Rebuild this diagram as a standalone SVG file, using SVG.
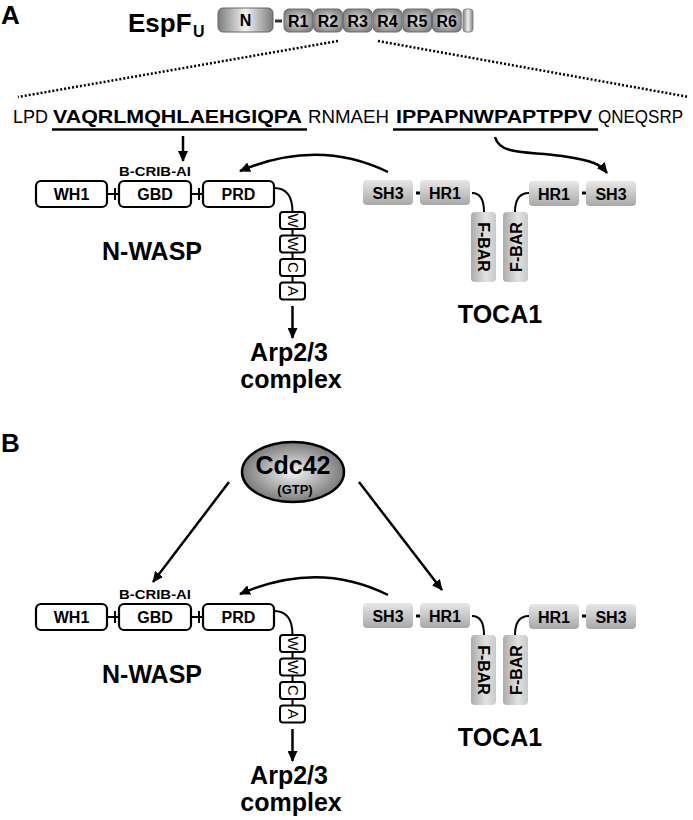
<svg xmlns="http://www.w3.org/2000/svg" width="693" height="820" viewBox="0 0 693 820">
<defs>
<style>
text{font-family:"Liberation Sans",Arial,sans-serif;fill:#000}
.b{font-weight:bold}
.box{fill:#fff;stroke:#000;stroke-width:2.2}
.wb{fill:#fff;stroke:#000;stroke-width:2}
.ln{fill:none;stroke:#000;stroke-width:2.5}
.th{fill:none;stroke:#000;stroke-width:2}
.dot{fill:none;stroke:#000;stroke-width:2.5;stroke-dasharray:2 2}
.tb{fill:url(#gT)}
.fb{fill:url(#gF)}
.rb{fill:url(#gR);stroke:#6a6a6a;stroke-width:1}
</style>
<linearGradient id="gN" x1="0" y1="0" x2="1" y2="0">
<stop offset="0" stop-color="#7c7c7c"/><stop offset="0.5" stop-color="#f2f2f2"/><stop offset="1" stop-color="#7c7c7c"/>
</linearGradient>
<radialGradient id="gR" cx="0.5" cy="0.5" r="0.6">
<stop offset="0" stop-color="#e6e6e6"/><stop offset="1" stop-color="#7a7a7a"/>
</radialGradient>
<linearGradient id="gT" x1="0" y1="0" x2="0" y2="1">
<stop offset="0" stop-color="#e8e8e8"/><stop offset="1" stop-color="#a8a8a8"/>
</linearGradient>
<linearGradient id="gF" x1="0" y1="0" x2="1" y2="0">
<stop offset="0" stop-color="#ababab"/><stop offset="0.6" stop-color="#e2e2e2"/><stop offset="1" stop-color="#c9c9c9"/>
</linearGradient>
<radialGradient id="gC" cx="0.5" cy="0.5" r="0.55">
<stop offset="0" stop-color="#f4f4f4"/><stop offset="1" stop-color="#6e6e6e"/>
</radialGradient>
<marker id="ah" markerWidth="11" markerHeight="10" refX="10" refY="5" orient="auto" markerUnits="userSpaceOnUse">
<path d="M0,0 L11,5 L0,10 z" fill="#000"/>
</marker>
</defs>

<!-- panel labels -->
<text class="b" x="1" y="24" font-size="26">A</text>
<text class="b" x="1" y="452" font-size="26">B</text>

<!-- EspFU -->
<g id="espfu">
<text class="b" x="128" y="32" font-size="26">EspF</text>
<text class="b" x="193" y="37" font-size="16">U</text>
<rect x="218" y="8" width="55" height="24" rx="5" fill="url(#gN)" stroke="#666" stroke-width="1"/>
<text class="b" x="245.5" y="26" font-size="16" text-anchor="middle">N</text>
<line x1="275" y1="21" x2="282" y2="21" stroke="#333" stroke-width="3"/>
<rect class="rb" x="284" y="9" width="28.7" height="23" rx="5"/>
<rect class="rb" x="313.7" y="9" width="28.7" height="23" rx="5"/>
<rect class="rb" x="343.4" y="9" width="28.7" height="23" rx="5"/>
<rect class="rb" x="373.1" y="9" width="28.7" height="23" rx="5"/>
<rect class="rb" x="402.8" y="9" width="28.7" height="23" rx="5"/>
<rect class="rb" x="432.5" y="9" width="28.7" height="23" rx="5"/>
<rect x="463" y="9" width="10" height="23" rx="3" fill="url(#gN)" stroke="#888" stroke-width="1"/>
<g class="b" font-size="16" text-anchor="middle">
<text x="298.3" y="26.5">R1</text>
<text x="328" y="26.5">R2</text>
<text x="357.7" y="26.5">R3</text>
<text x="387.4" y="26.5">R4</text>
<text x="417.1" y="26.5">R5</text>
<text x="446.8" y="26.5">R6</text>
</g>
</g>

<!-- sequence -->
<g id="sequence" font-size="19">
<text x="13" y="123" textLength="35" lengthAdjust="spacingAndGlyphs">LPD</text>
<text class="b" x="53" y="123" textLength="249" lengthAdjust="spacingAndGlyphs">VAQRLMQHLAEHGIQPA</text>
<text x="308" y="123" textLength="81" lengthAdjust="spacingAndGlyphs">RNMAEH</text>
<text class="b" x="396" y="123" textLength="196" lengthAdjust="spacingAndGlyphs">IPPAPNWPAPTPPV</text>
<text x="598" y="123" textLength="85" lengthAdjust="spacingAndGlyphs">QNEQSRP</text>
<line x1="52" y1="129.5" x2="307" y2="129.5" stroke="#000" stroke-width="2.5"/>
<line x1="393" y1="129.5" x2="598" y2="129.5" stroke="#000" stroke-width="2.5"/>
</g>

<!-- connectors -->
<g id="connectors">
<line class="dot" x1="338" y1="41" x2="18" y2="97"/>
<line class="dot" x1="378" y1="41" x2="689" y2="97"/>
<line class="ln" x1="183" y1="136" x2="183" y2="161" marker-end="url(#ah)"/>
<path class="ln" d="M388,172 Q318,138 240,171" marker-end="url(#ah)"/>
<path class="ln" d="M495,137 C500,156 530,151 562,156 S600,164 607,173" marker-end="url(#ah)"/>
<line class="ln" x1="292.5" y1="306" x2="292.5" y2="338" marker-end="url(#ah)"/>
<!-- panel B -->
<line class="ln" x1="229" y1="482" x2="153" y2="582" marker-end="url(#ah)"/>
<line class="ln" x1="359" y1="482" x2="442" y2="590" marker-end="url(#ah)"/>
<path class="ln" d="M388,595 Q318,560 240,594" marker-end="url(#ah)"/>
<line class="ln" x1="292.5" y1="729" x2="292.5" y2="761" marker-end="url(#ah)"/>
</g>

<!-- N-WASP panel A -->
<g id="nwasp-a">
<line class="th" x1="107" y1="194" x2="119" y2="194"/>
<line class="th" x1="115" y1="188" x2="115" y2="200"/>
<line class="th" x1="191" y1="194" x2="203" y2="194"/>
<line class="th" x1="199" y1="188" x2="199" y2="200"/>
<path class="th" d="M274,188 C288,188 292.5,198 292.5,212"/>
<line class="th" x1="292.5" y1="212" x2="292.5" y2="300"/>
<rect class="box" x="36" y="181" width="71" height="26" rx="5"/>
<rect class="box" x="119" y="181" width="72" height="26" rx="5"/>
<rect class="box" x="203" y="181" width="71" height="26" rx="5"/>
<g class="b" font-size="16" text-anchor="middle">
<text x="71.5" y="199.5">WH1</text>
<text x="155" y="199.5">GBD</text>
<text x="238.5" y="199.5">PRD</text>
</g>
<text class="b" x="155" y="176" font-size="13.5" text-anchor="middle" textLength="72" lengthAdjust="spacingAndGlyphs">B-CRIB-AI</text>
<rect class="wb" x="280" y="212" width="25" height="17" rx="3"/>
<rect class="wb" x="280" y="235.5" width="25" height="17" rx="3"/>
<rect class="wb" x="280" y="259" width="25" height="17" rx="3"/>
<rect class="wb" x="280" y="282.5" width="25" height="17" rx="3"/>
<g font-size="15" text-anchor="middle">
<text transform="translate(292.5,220.5) rotate(90)" y="5">W</text>
<text transform="translate(292.5,244) rotate(90)" y="5">W</text>
<text transform="translate(292.5,267.5) rotate(90)" y="5">C</text>
<text transform="translate(292.5,291) rotate(90)" y="5">A</text>
</g>
<text class="b" x="152" y="260" font-size="25" text-anchor="middle">N-WASP</text>
<text class="b" x="289" y="361" font-size="25" text-anchor="middle">Arp2/3</text>
<text class="b" x="291" y="388" font-size="25" text-anchor="middle">complex</text>
</g>

<!-- TOCA1 panel A -->
<g id="toca1-a">
<line x1="416" y1="193" x2="420" y2="193" stroke="#000" stroke-width="3"/>
<line x1="582" y1="193" x2="586" y2="193" stroke="#000" stroke-width="3"/>
<path class="th" d="M472,193 C480,193 484,200 484,212"/>
<path class="th" d="M515,212 C515,200 519,193 529,193"/>
<rect class="tb" x="363" y="180" width="50" height="25" rx="4"/>
<rect class="tb" x="420" y="180" width="50" height="25" rx="4"/>
<rect class="tb" x="529" y="181" width="50" height="25" rx="4"/>
<rect class="tb" x="586" y="181" width="50" height="25" rx="4"/>
<rect class="fb" x="471" y="212" width="25" height="70" rx="4"/>
<rect class="fb" x="503" y="212" width="25" height="70" rx="4"/>
<g class="b" font-size="16" text-anchor="middle">
<text x="388" y="199">SH3</text>
<text x="445" y="199">HR1</text>
<text x="554" y="200">HR1</text>
<text x="611" y="200">SH3</text>
<text transform="translate(483.5,247) rotate(90)" y="6">F-BAR</text>
<text transform="translate(515.5,247) rotate(-90)" y="6">F-BAR</text>
</g>
<text class="b" x="500" y="323" font-size="25" text-anchor="middle">TOCA1</text>
</g>

<!-- Cdc42 -->
<g id="cdc42">
<ellipse cx="293" cy="472" rx="51" ry="30" fill="url(#gC)" stroke="#000" stroke-width="2.5"/>
<text class="b" x="293" y="474" font-size="25" text-anchor="middle">Cdc42</text>
<text class="b" x="295" y="494" font-size="13" text-anchor="middle">(GTP)</text>
</g>

<!-- N-WASP panel B -->
<g id="nwasp-b" transform="translate(0,423)">
<line class="th" x1="107" y1="194" x2="119" y2="194"/>
<line class="th" x1="115" y1="188" x2="115" y2="200"/>
<line class="th" x1="191" y1="194" x2="203" y2="194"/>
<line class="th" x1="199" y1="188" x2="199" y2="200"/>
<path class="th" d="M274,188 C288,188 292.5,198 292.5,212"/>
<line class="th" x1="292.5" y1="212" x2="292.5" y2="300"/>
<rect class="box" x="36" y="181" width="71" height="26" rx="5"/>
<rect class="box" x="119" y="181" width="72" height="26" rx="5"/>
<rect class="box" x="203" y="181" width="71" height="26" rx="5"/>
<g class="b" font-size="16" text-anchor="middle">
<text x="71.5" y="199.5">WH1</text>
<text x="155" y="199.5">GBD</text>
<text x="238.5" y="199.5">PRD</text>
</g>
<text class="b" x="155" y="176" font-size="13.5" text-anchor="middle" textLength="72" lengthAdjust="spacingAndGlyphs">B-CRIB-AI</text>
<rect class="wb" x="280" y="212" width="25" height="17" rx="3"/>
<rect class="wb" x="280" y="235.5" width="25" height="17" rx="3"/>
<rect class="wb" x="280" y="259" width="25" height="17" rx="3"/>
<rect class="wb" x="280" y="282.5" width="25" height="17" rx="3"/>
<g font-size="15" text-anchor="middle">
<text transform="translate(292.5,220.5) rotate(90)" y="5">W</text>
<text transform="translate(292.5,244) rotate(90)" y="5">W</text>
<text transform="translate(292.5,267.5) rotate(90)" y="5">C</text>
<text transform="translate(292.5,291) rotate(90)" y="5">A</text>
</g>
<text class="b" x="152" y="260" font-size="25" text-anchor="middle">N-WASP</text>
<text class="b" x="289" y="361" font-size="25" text-anchor="middle">Arp2/3</text>
<text class="b" x="291" y="388" font-size="25" text-anchor="middle">complex</text>
</g>

<!-- TOCA1 panel B -->
<g id="toca1-b" transform="translate(0,423)">
<line x1="416" y1="193" x2="420" y2="193" stroke="#000" stroke-width="3"/>
<line x1="582" y1="193" x2="586" y2="193" stroke="#000" stroke-width="3"/>
<path class="th" d="M472,193 C480,193 484,200 484,212"/>
<path class="th" d="M515,212 C515,200 519,193 529,193"/>
<rect class="tb" x="363" y="180" width="50" height="25" rx="4"/>
<rect class="tb" x="420" y="180" width="50" height="25" rx="4"/>
<rect class="tb" x="529" y="181" width="50" height="25" rx="4"/>
<rect class="tb" x="586" y="181" width="50" height="25" rx="4"/>
<rect class="fb" x="471" y="212" width="25" height="70" rx="4"/>
<rect class="fb" x="503" y="212" width="25" height="70" rx="4"/>
<g class="b" font-size="16" text-anchor="middle">
<text x="388" y="199">SH3</text>
<text x="445" y="199">HR1</text>
<text x="554" y="200">HR1</text>
<text x="611" y="200">SH3</text>
<text transform="translate(483.5,247) rotate(90)" y="6">F-BAR</text>
<text transform="translate(515.5,247) rotate(-90)" y="6">F-BAR</text>
</g>
<text class="b" x="500" y="323" font-size="25" text-anchor="middle">TOCA1</text>
</g>
</svg>
